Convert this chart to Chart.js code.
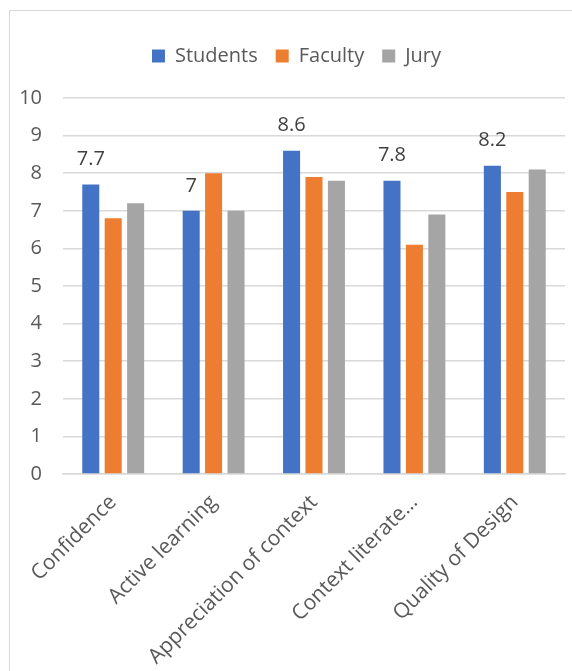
<!DOCTYPE html>
<html>
<head>
<meta charset="utf-8">
<script src="https://cdn.jsdelivr.net/npm/chart.js@4"></script>
<style>
  html, body { margin: 0; padding: 0; background: #fff; overflow: hidden; }
  #frame { position: absolute; left: 9px; top: 10px; width: 574px; height: 760px; border: 1.5px solid #d9d9d9; box-sizing: border-box; }
  #chart { position: absolute; left: 0; top: 0; }
</style>
</head>
<body>
<div id="frame"></div>
<canvas id="chart" width="600" height="760"></canvas>
<script>
const categories = ['Confidence', 'Active learning', 'Appreciation of context', 'Context literate…', 'Quality of Design']
const students = [7.7, 7, 8.6, 7.8, 8.2]
const faculty = [6.8, 8, 7.9, 6.1, 7.5]
const jury = [7.2, 7, 7.8, 6.9, 8.1]
const yTicks = [0, 1, 2, 3, 4, 5, 6, 7, 8, 9, 10]

const FONT = '"Open Sans", "Liberation Sans", sans-serif'

// value labels above the Students bars only, like the original
const studentLabels = {
  id: 'studentLabels',
  afterDatasetsDraw (chart) {
    const ctx = chart.ctx
    const meta = chart.getDatasetMeta(0)
    ctx.save()
    ctx.font = '20px ' + FONT
    ctx.fillStyle = '#404040'
    ctx.textAlign = 'center'
    ctx.textBaseline = 'middle'
    meta.data.forEach((bar, i) => {
      ctx.fillText(String(students[i]), bar.x, bar.y - 25)
    })
    ctx.restore()
  }
}

// extra room between legend and plot, legend centred on the frame not the canvas
const legendTweak = {
  id: 'legendTweak',
  beforeInit (chart) {
    const legend = chart.legend
    const fit = legend.fit
    const draw = legend.draw
    legend.fit = function () {
      fit.call(this)
      this.height += 22
    }
    legend.draw = function () {
      this.ctx.save()
      this.ctx.translate(14, 0)
      draw.call(this)
      this.ctx.restore()
    }
  }
}

const barOpts = { categoryPercentage: 0.67, barPercentage: 0.76 }

new Chart('chart', {
  type: 'bar',
  data: {
    labels: categories,
    datasets: [
      { label: 'Students', data: students, backgroundColor: '#4472c4', ...barOpts },
      { label: 'Faculty', data: faculty, backgroundColor: '#ed7d31', ...barOpts },
      { label: 'Jury', data: jury, backgroundColor: '#a5a5a5', ...barOpts }
    ]
  },
  options: {
    responsive: false,
    animation: false,
    devicePixelRatio: 1,
    layout: { padding: { top: 28, right: 35, left: 0, bottom: 0 } },
    plugins: {
      legend: {
        position: 'top',
        labels: {
          boxWidth: 13,
          boxHeight: 13,
          padding: 18,
          color: '#595959',
          font: { family: FONT, size: 20 }
        }
      },
      tooltip: { enabled: false }
    },
    scales: {
      x: {
        afterFit: scale => { scale.height = 286 },
        grid: { display: false },
        border: { color: '#d9d9d9', width: 1.5 },
        ticks: {
          color: '#595959',
          font: { family: FONT, size: 21 },
          minRotation: 45,
          maxRotation: 45,
          autoSkip: false,
          padding: 8
        }
      },
      y: {
        min: 0,
        max: 10,
        afterFit: scale => { scale.width = 63 },
        afterBuildTicks: scale => { scale.ticks = yTicks.map(v => ({ value: v })) },
        grid: { color: '#d9d9d9', lineWidth: 1.5, drawTicks: false },
        border: { display: false },
        ticks: {
          color: '#595959',
          font: { family: FONT, size: 20 },
          padding: 21
        }
      }
    }
  },
  plugins: [studentLabels, legendTweak]
})
</script>
</body>
</html>
